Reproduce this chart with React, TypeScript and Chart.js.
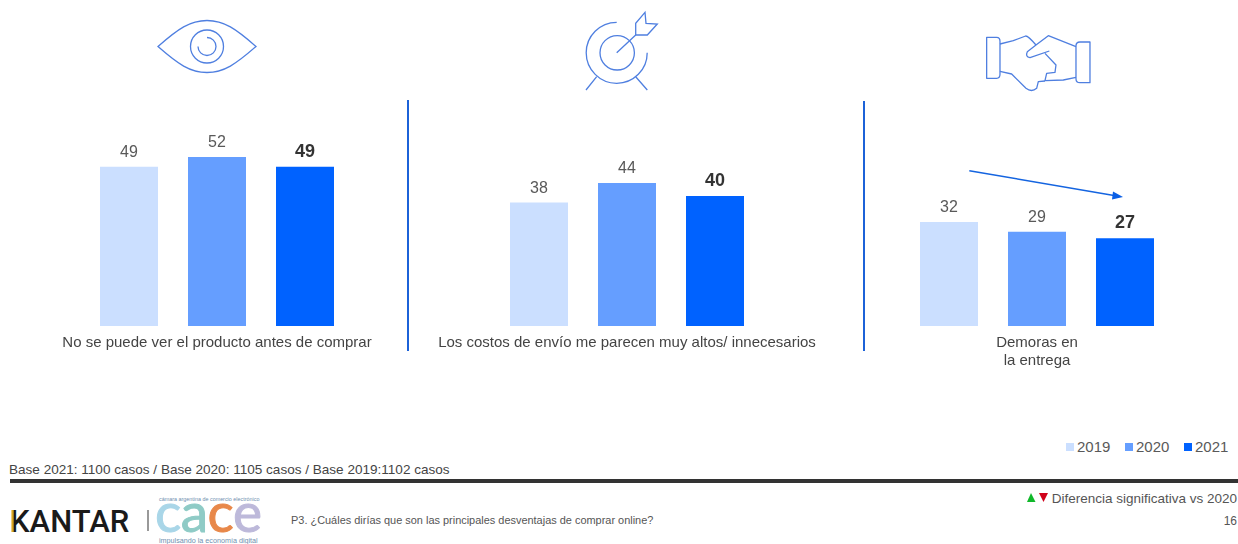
import React, { useEffect, useRef } from "react";
import { Chart, registerables } from "chart.js";

Chart.register(...registerables);

const years = ["2019", "2020", "2021"];
const yearColors = ["#CBDFFF", "#659EFF", "#0062FF"];

const productValues = [49, 52, 49];
const shippingValues = [38, 44, 40];
const deliveryValues = [32, 29, 27];

const productLabel = ["No se puede ver el producto antes de comprar"];
const shippingLabel = ["Los costos de envío me parecen muy altos/ innecesarios"];
const deliveryLabel = ["Demoras en", "la entrega"];

const FONT = "'Liberation Sans', Arial, sans-serif";
const ICON = "#4f7fe0";

// Writes each bar's value above it (the latest year emphasised) and the panel's caption below the bars.
const panelText = {
  id: "panelText",
  afterDatasetsDraw(chart: any, _args: any, opts: any) {
    const { ctx, chartArea } = chart;
    const meta = chart.getDatasetMeta(0);
    const values = chart.data.datasets[0].data;
    ctx.save();
    ctx.textAlign = "center";
    ctx.textBaseline = "middle";
    meta.data.forEach((bar: any, i: number) => {
      const latest = i === values.length - 1;
      ctx.font = `${latest ? "bold 18px" : "16px"} ${FONT}`;
      ctx.fillStyle = latest ? "#333333" : "#595959";
      ctx.fillText(String(values[i]), bar.x, bar.y - (latest ? 15 : 14));
    });
    ctx.font = `15px ${FONT}`;
    ctx.fillStyle = "#444444";
    const centre = (chartArea.left + chartArea.right) / 2;
    opts.lines.forEach((line: string, i: number) => {
      ctx.fillText(line, centre, chartArea.bottom + 17 + i * 18);
    });
    ctx.restore();
  },
};

function Panel({ left, values, label }: { left: number; values: number[]; label: string[] }) {
  const ref = useRef<HTMLCanvasElement>(null);
  useEffect(() => {
    const chart = new Chart(ref.current as HTMLCanvasElement, {
      type: "bar",
      data: {
        labels: years,
        datasets: [{ data: values, backgroundColor: yearColors, borderWidth: 0, categoryPercentage: 1, barPercentage: 58 / 88 }],
      },
      options: {
        animation: false,
        responsive: false,
        events: [],
        layout: { padding: { top: 31, left: 68, right: 68, bottom: 54 } },
        plugins: { legend: { display: false }, tooltip: { enabled: false }, panelText: { lines: label } },
        scales: {
          y: { display: false, min: 0, max: 60 },
          x: { display: false },
        },
      },
      plugins: [panelText],
    } as any);
    return () => chart.destroy();
  }, []);
  return <canvas ref={ref} width={400} height={280} style={{ position: "absolute", left, top: 100, width: 400, height: 280 }} />;
}

function Decorations() {
  return (
    <svg width={1238} height={544} style={{ position: "absolute", left: 0, top: 0 }}>
      {/* eye */}
      <g fill="none" stroke={ICON} strokeWidth={1.3}>
        <path d="M158 46.500 C178 29 190 20.500 207 20.500 C224 20.500 236 29 256 46.500 C236 64 224 72.500 207 72.500 C190 72.500 178 64 158 46.500 Z" />
        <circle cx={207} cy={46.5} r={16.5} />
        <path d="M207 37.500 A9 9 0 1 1 198 46.500" />
      </g>
      {/* target with arrow */}
      <g fill="none" stroke={ICON} strokeWidth={1.3}>
        <path d="M616.700 22.300 A30.500 30.500 0 1 0 647.200 52.700" />
        <circle cx={617.2} cy={52.8} r={17.2} />
        <path d="M616.700 52.700 L635.700 35" />
        <path d="M645 12.300 L635.700 23.300 L635.700 35 L647.300 35 L657.300 24 L646 23.300 Z" />
        <path d="M596.700 76.700 L586 90 M635.700 76.700 L647.300 90" />
      </g>
      {/* handshake */}
      <g fill="none" stroke={ICON} strokeWidth={3.9} strokeLinejoin="round" transform="translate(860 0) scale(0.3333)">
        <path d="M380 112 H410 Q420 112 420 124 V223 Q420 235 410 235 H380 Z" />
        <path d="M690 126 H660 Q648 126 648 138 V236 Q648 248 660 248 H690 Z" />
        <path d="M420 132 L460 122 L497 108 Q505 108 528 135" />
        <path d="M420 214 L455 222 L498 265 Q515 278 530 265 L535 245 L555 243" />
        <path d="M648 140 L565 107 L528 135 L502 155 Q495 170 510 173 L568 153" />
        <path d="M555 160 L588 195 L585 217 L560 220 L555 242 L610 240 L648 232" />
      </g>

      {/* panel separators */}
      <line x1={408} y1={100} x2={408} y2={351} stroke="#1C62D8" strokeWidth={2} />
      <line x1={864} y1={101} x2={864} y2={351} stroke="#1C62D8" strokeWidth={2} />

      {/* downward trend arrow */}
      <line x1={969.3} y1={170.7} x2={1114} y2={195.4} stroke="#1464E0" strokeWidth={1.5} />
      <path d="M1123 197 L1113 191.500 L1112 199.500 Z" fill="#0B5FE6" />

      {/* legend */}
      <g fontFamily={FONT} fontSize={15} fill="#595959">
        {years.map((year, i) => {
          const squareX = [1066, 1125, 1184][i];
          return (
            <g key={year}>
              <rect x={squareX} y={443} width={8} height={8} fill={yearColors[i]} />
              <text x={squareX + 11} y={452}>{year}</text>
            </g>
          );
        })}
      </g>

      {/* footer */}
      <text x={9} y={473.5} fontFamily={FONT} fontSize={13.55} fill="#444444">Base 2021: 1100 casos / Base 2020: 1105 casos / Base 2019:1102 casos</text>
      <rect x={10} y={479} width={1228} height={4} fill="#333333" />
      <path d="M1027 502 L1031 493 L1035.500 502 Z" fill="#10B82A" />
      <path d="M1039 493 H1048 L1043.500 502 Z" fill="#D0021B" />
      <text x={1237} y={503} textAnchor="end" fontFamily={FONT} fontSize={13.5} fill="#555555">Diferencia significativa vs 2020</text>
      <text x={1237} y={525} textAnchor="end" fontFamily={FONT} fontSize={12} fill="#555555">16</text>
      <text x={291} y={524} fontFamily={FONT} fontSize={10.95} fill="#555555">P3. ¿Cuáles dirías que son las principales desventajas de comprar online?</text>

      {/* logos */}
      <text x={10} y={532} fontFamily="Roboto, sans-serif" fontWeight={500} fontSize={31} fill="#1a1a1a">KANTAR</text>
      <rect x={11.5} y={510} width={2.2} height={22} fill="#D9A520" />
      <rect x={147} y={510} width={2} height={21} fill="#999999" />
      <text x={159} y={501} fontFamily={FONT} fontSize={5.4} fill="#6f8fb0">cámara argentina de comercio electrónico</text>
      <text x={155} y={532} fontFamily="Lato, sans-serif" fontSize={55} letterSpacing={-0.5} strokeWidth={1}>
        <tspan fill="#A9D6E8" stroke="#A9D6E8">c</tspan>
        <tspan fill="#8FCBC6" stroke="#8FCBC6">a</tspan>
        <tspan fill="#E8884A" stroke="#E8884A">c</tspan>
        <tspan fill="#BDB9DA" stroke="#BDB9DA">e</tspan>
      </text>
      <text x={159} y={543} fontFamily={FONT} fontSize={7.2} fill="#6f8fb0">impulsando la economía digital</text>
    </svg>
  );
}

export default function App() {
  return (
    <div style={{ position: "absolute", left: 0, top: 0, width: 1238, height: 544, overflow: "hidden", background: "#fff" }}>
      <Decorations />
      <Panel left={17} values={productValues} label={productLabel} />
      <Panel left={427} values={shippingValues} label={shippingLabel} />
      <Panel left={837} values={deliveryValues} label={deliveryLabel} />
    </div>
  );
}
